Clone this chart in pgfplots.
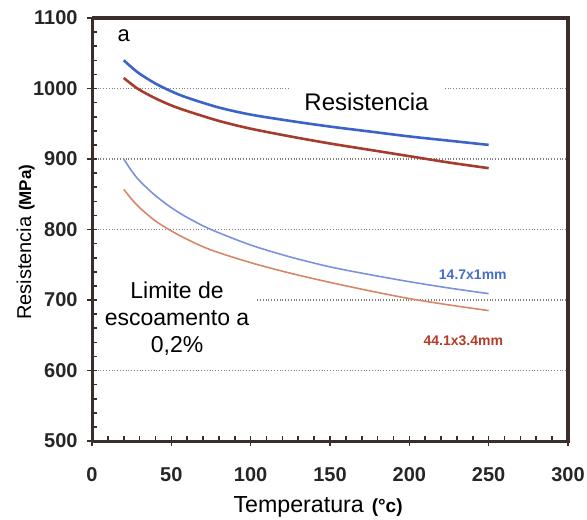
\documentclass[border=0pt]{standalone}
\usepackage{fontspec}
\setmainfont{Liberation Sans}
\usepackage{pgfplots}
\pgfplotsset{compat=1.18}

\definecolor{frm}{RGB}{60,45,45}
\definecolor{ublue}{RGB}{60,100,200}
\definecolor{ured}{RGB}{165,60,45}
\definecolor{lblue}{RGB}{125,145,222}
\definecolor{lred}{RGB}{215,135,105}
\definecolor{tblue}{RGB}{70,110,200}
\definecolor{tred}{RGB}{180,60,40}

\begin{document}
\begin{tikzpicture}
\begin{axis}[
    scale only axis,
    width=238pt, height=211.5pt,
    xmin=0, xmax=300, ymin=500, ymax=1100,
    xtick={0,50,...,300}, ytick={500,600,...,1100},
    minor x tick num=4, minor y tick num=4,
    xtick pos=bottom, ytick pos=left, tick align=inside,
    major tick length=2.5pt, minor tick length=2.5pt,
    tick style={draw=frm, line width=0.8pt},
    axis line style={draw=frm, line width=1.5pt},
    ymajorgrids,
    grid style={densely dotted, gray, line width=0.9pt},
    extra x ticks={0,50,...,300}, extra y ticks={500,600,...,1100},
    extra x tick labels={}, extra y tick labels={},
    extra tick style={tick align=outside, grid=none},
    ticklabel style={font=\fontsize{10}{10}\selectfont\bfseries, text=black!85},
    /pgf/number format/1000 sep={},
    /pgf/number format/assume math mode=true,
    yticklabel style={xshift=-3.7pt},
    xticklabel style={yshift=-9.7pt},
    xlabel={Temperatura\hspace{4pt}{\bfseries\fontsize{9.5}{9.5}\selectfont(°c)}},
    xlabel style={font=\fontsize{11.6}{11.6}\selectfont, at={(axis description cs:0.475,-0.168)}, anchor=base},
    ylabel={Resistencia {\bfseries\fontsize{8.5}{8.5}\selectfont(MPa)}},
    ylabel style={font=\fontsize{10}{10}\selectfont, at={(axis description cs:-0.128,0.47)}, anchor=base},
    clip=false,
]

\node[fill=white, inner xsep=7.5pt, inner ysep=3pt, font=\fontsize{12}{12}\selectfont] at (axis cs:173,981) {Resistencia};

% resistencia
\addplot[smooth, color=ublue, line width=1.3pt] coordinates {
    (20,1040) (25,1030) (30,1021) (40,1007) (50,996) (60,987) (80,973) (100,963)
    (125,954) (150,946) (175,939) (200,932) (225,926) (250,920)
};
\addplot[smooth, color=ured, line width=1.3pt] coordinates {
    (20,1015) (25,1006) (30,998) (40,986) (50,976) (60,968) (80,954) (100,943)
    (125,932) (150,922) (175,913) (200,904) (225,895) (250,887)
};

% limite de escoamento
\addplot[smooth, color=lblue, line width=0.8pt] coordinates {
    (20,900) (25,883) (30,869) (40,848) (50,831) (60,817) (75,800) (100,778)
    (125,761) (150,747) (175,736) (200,726) (225,717) (250,709)
};
\addplot[smooth, color=lred, line width=0.8pt] coordinates {
    (20,857) (25,843) (30,831) (40,812) (50,798) (60,786) (75,771) (100,753)
    (125,738) (150,725) (175,713) (200,702) (225,693) (250,685)
};

\node[font=\fontsize{11}{11}\selectfont] at (axis cs:20,1075) {a};
\node[fill=white, align=center, inner xsep=3.5pt, inner ysep=2pt,
      font=\fontsize{11.5}{13.5}\selectfont] at (axis cs:53.6,673) {Limite de\\escoamento a\\0,2\%};
\node[font=\bfseries\fontsize{7}{7}\selectfont, text=tblue] at (axis cs:240,736) {14.7x1mm};
\node[font=\bfseries\fontsize{7}{7}\selectfont, text=tred] at (axis cs:234,643) {44.1x3.4mm};
% top and right frame
\draw[draw=frm, line width=1.6pt] (rel axis cs:0,1) -- (rel axis cs:1,1) -- (rel axis cs:1,0);
\end{axis}
\pgfresetboundingbox
\path ([shift={(-46pt,-39pt)}]current axis.south west) rectangle ([shift={(9.5pt,9pt)}]current axis.north east);
\end{tikzpicture}
\end{document}
